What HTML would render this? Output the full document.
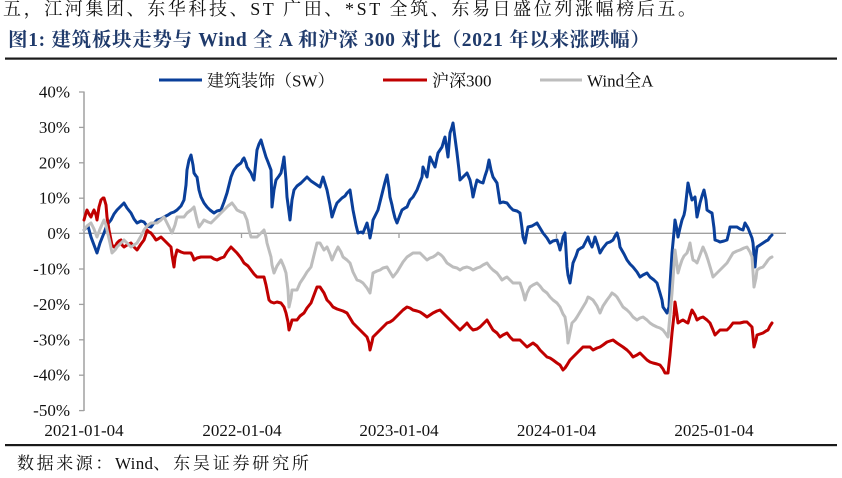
<!DOCTYPE html>
<html>
<head>
<meta charset="utf-8">
<style>
  html,body{margin:0;padding:0;background:#fff;}
  body{width:842px;height:478px;overflow:hidden;position:relative;}
  svg{position:absolute;left:0;top:0;}
  .t{font-family:"Liberation Serif","Noto Serif CJK SC",serif;}
</style>
</head>
<body>
<svg width="842" height="478" viewBox="0 0 842 478" xmlns="http://www.w3.org/2000/svg">
  <!-- top cut text -->
  <text class="t" x="3" y="15" font-size="18" letter-spacing="2.6" fill="#111">五，江河集团、东华科技、ST 广田、*ST 全筑、东易日盛位列涨幅榜后五。</text>
  <!-- title -->
  <text class="t" x="8" y="46" font-size="19.5" font-weight="bold" letter-spacing="0.7" fill="#1F3A6B">图1:  建筑板块走势与 Wind 全 A 和沪深 300 对比（2021 年以来涨跌幅）</text>
  <rect x="5" y="57.5" width="832" height="2.2" fill="#1a1a1a"/>

  <!-- legend -->
  <line x1="159" y1="80" x2="202" y2="80" stroke="#0A3F9A" stroke-width="3"/>
  <text class="t" x="207" y="86.5" font-size="17" fill="#111">建筑装饰（SW）</text>
  <line x1="383" y1="80" x2="427" y2="80" stroke="#C00000" stroke-width="3"/>
  <text class="t" x="432" y="86.5" font-size="17" fill="#111">沪深300</text>
  <line x1="540" y1="80" x2="582" y2="80" stroke="#BDBDBD" stroke-width="3"/>
  <text class="t" x="587" y="86.5" font-size="17" fill="#111">Wind全A</text>

  <!-- y axis -->
  <line x1="84" y1="91.5" x2="84" y2="411" stroke="#A0A0A0" stroke-width="1.5"/>
  <g stroke="#A0A0A0" stroke-width="1.3">
    <line x1="79" y1="92" x2="84" y2="92"/>
    <line x1="79" y1="127.4" x2="84" y2="127.4"/>
    <line x1="79" y1="162.8" x2="84" y2="162.8"/>
    <line x1="79" y1="198.2" x2="84" y2="198.2"/>
    <line x1="79" y1="233.3" x2="84" y2="233.3"/>
    <line x1="79" y1="269" x2="84" y2="269"/>
    <line x1="79" y1="304.4" x2="84" y2="304.4"/>
    <line x1="79" y1="339.8" x2="84" y2="339.8"/>
    <line x1="79" y1="375.2" x2="84" y2="375.2"/>
    <line x1="79" y1="410.6" x2="84" y2="410.6"/>
  </g>
  <g class="t" font-size="17" fill="#111" text-anchor="end">
    <text x="70" y="97.5">40%</text>
    <text x="70" y="132.9">30%</text>
    <text x="70" y="168.3">20%</text>
    <text x="70" y="203.7">10%</text>
    <text x="70" y="238.8">0%</text>
    <text x="70" y="274.5">-10%</text>
    <text x="70" y="309.9">-20%</text>
    <text x="70" y="345.3">-30%</text>
    <text x="70" y="380.7">-40%</text>
    <text x="70" y="416.1">-50%</text>
  </g>

  <!-- zero line / x axis -->
  <line x1="84" y1="233.3" x2="786" y2="233.3" stroke="#A0A0A0" stroke-width="1.3"/>
  <g stroke="#A0A0A0" stroke-width="1.3">
    <line x1="241.5" y1="233.3" x2="241.5" y2="238"/>
    <line x1="399" y1="233.3" x2="399" y2="238"/>
    <line x1="556.5" y1="233.3" x2="556.5" y2="238"/>
    <line x1="714" y1="233.3" x2="714" y2="238"/>
  </g>
  <g class="t" font-size="17" fill="#111" text-anchor="middle">
    <text x="84" y="436">2021-01-04</text>
    <text x="242" y="436">2022-01-04</text>
    <text x="399" y="436">2023-01-04</text>
    <text x="556.5" y="436">2024-01-04</text>
    <text x="714" y="436">2025-01-04</text>
  </g>

  <!-- series -->
  <g fill="none" stroke-width="3" stroke-linejoin="round" stroke-linecap="round">
    <polyline stroke="#0A3F9A" points="84,230 88,226 91,237 94,245 97,253 100,243 104,233 107,225 111,220 114,214 117,210 121,206 124,203 127,208 131,213 134,219 137,223 141,221 144,222 147,226 151,227 154,223 157,220 161,219 164,217 168,215 171,213 174,212 177,210 181,206 184,200 186,185 187,170 189,160 191,155 193,165 194,173 196,176 197,177 199,190 201,197 204,203 207,207 210,210 214,213 217,211 221,210 224,202 227,193 229,185 231,177 233,172 234,170 237,166 241,163 243,159 244,158 246,163 247,167 249,170 251,173 253,178 254,180 256,160 257,150 259,144 261,140 263,147 266,157 268,162 271,170 272,207 274,190 276,180 279,176 281,173 283,163 284,157 286,180 287,197 289,212 290,220 292,200 294,190 297,186 301,183 304,180 307,177 311,181 314,183 317,185 320,187 323,177 327,190 330,205 332,217 335,208 337,203 340,200 342,198 345,196 347,193 350,190 353,210 356,225 358,233 361,232 363,233 365,228 367,223 369,232 370,238 372,228 373,220 376,214 378,210 381,198 383,190 385,182 387,175 389,188 390,197 392,205 393,210 395,218 397,223 400,215 402,210 405,208 407,207 410,200 413,197 417,190 420,182 422,177 423,167 425,172 427,177 430,157 433,163 435,167 438,153 440,150 442,147 444,140 445,137 447,150 448,157 449,145 450,133 452,127 453,123 455,138 457,153 459,170 460,180 463,177 465,175 467,173 470,180 472,190 473,197 475,188 477,180 480,182 483,183 485,176 487,170 489,160 491,170 493,177 495,180 497,183 500,203 503,202 507,203 510,207 513,210 517,211 520,213 522,228 523,237 525,243 527,232 528,227 532,226 537,223 540,228 543,233 547,238 550,243 553,241 557,240 559,246 560,250 562,242 563,237 565,233 567,267 568,275 570,283 572,270 573,263 576,256 578,250 581,248 583,247 586,241 588,237 590,243 592,247 594,241 595,237 598,246 600,253 603,248 607,243 610,242 613,240 615,236 617,233 619,240 620,247 624,254 627,260 630,264 633,267 637,272 640,277 643,275 647,273 650,277 654,280 657,283 660,293 662,300 663,307 665,310 667,313 669,307 670,285 672,253 674,232 675,220 677,230 678,237 680,228 682,220 684,215 685,210 687,192 688,183 690,192 692,200 694,198 695,197 697,217 699,208 700,203 702,196 704,190 706,200 707,210 710,212 712,213 714,228 715,240 718,241 720,242 724,241 727,240 729,232 730,227 734,227 737,227 740,229 743,230 745,223 748,228 750,233 752,238 753,243 754,255 755,267 756,255 757,247 760,245 763,243 766,241 768,240 770,237 772,235"/>
    <polyline stroke="#C00000" points="84,220 86,213 87,210 89,214 91,217 93,212 94,210 96,215 97,220 99,207 101,200 103,198 104,198 106,205 107,217 109,230 111,240 112,245 114,247 116,245 117,243 119,241 121,240 122,245 124,247 127,245 131,243 134,247 137,250 141,244 144,240 146,234 147,230 149,232 151,233 154,237 156,240 158,239 161,237 164,240 167,243 169,245 171,247 172,255 174,267 175,258 177,250 181,252 184,253 187,253 191,253 193,257 194,260 197,258 201,257 206,257 211,257 214,259 217,260 221,258 224,257 227,252 231,247 234,250 237,253 241,258 244,263 248,266 251,270 254,274 257,277 261,277 264,277 266,285 269,300 271,302 274,303 277,302 281,303 284,307 286,313 288,322 289,330 291,324 292,320 295,320 297,320 300,316 304,313 307,308 311,303 314,295 317,287 320,287 324,293 327,300 330,303 333,307 337,309 340,310 343,311 347,313 350,318 353,323 357,327 360,330 363,333 367,337 369,343 370,350 372,342 373,337 377,333 380,330 383,327 387,323 390,322 393,320 397,316 400,313 403,310 407,307 410,308 413,310 417,311 420,312 423,314 427,317 430,315 433,313 437,311 440,310 443,313 447,317 450,320 453,323 457,327 460,330 463,327 467,323 470,327 473,330 477,329 480,327 483,324 487,320 490,325 493,330 497,333 500,337 503,335 507,333 510,337 513,340 517,340 520,340 523,343 527,347 530,345 533,343 537,346 540,350 543,353 547,357 550,358 553,360 557,363 560,365 563,370 565,368 567,365 570,360 573,357 577,353 580,350 583,347 587,347 590,347 593,350 597,348 600,347 603,345 607,342 610,341 613,340 617,343 620,345 623,347 627,350 630,353 633,357 637,355 640,353 643,356 647,360 650,362 653,363 657,364 660,365 663,369 665,373 668,373 670,355 672,333 674,315 675,302 677,315 678,323 681,321 683,320 686,322 688,323 690,316 692,310 695,315 697,320 700,318 703,317 707,320 710,323 713,330 715,335 718,332 720,330 724,330 727,330 730,327 733,323 737,323 740,323 744,322 747,322 750,325 752,327 753,337 754,347 756,340 757,335 760,334 763,333 766,331 768,330 770,326 772,323"/>
    <polyline stroke="#BDBDBD" points="84,230 87,226 91,223 94,229 97,237 100,229 104,220 106,225 107,230 110,243 112,253 115,250 117,247 121,243 124,240 127,243 131,247 134,245 137,243 141,236 144,230 147,226 151,223 154,223 157,223 161,220 164,217 168,225 172,233 175,225 177,217 181,217 184,217 187,213 191,210 194,207 197,220 199,227 202,223 204,220 208,222 211,223 214,220 217,217 221,213 224,210 228,206 232,203 235,207 237,210 241,212 244,213 247,220 249,230 251,237 254,237 257,237 261,233 264,230 266,237 267,243 269,250 271,257 272,265 274,273 277,266 281,260 284,267 286,273 288,290 289,307 291,298 292,290 295,290 297,290 300,283 304,277 307,272 311,267 314,255 317,243 320,243 324,250 327,247 330,254 332,260 335,253 338,247 341,252 343,257 347,260 350,263 353,272 357,280 360,281 363,283 367,288 370,293 372,280 373,273 377,271 380,270 383,268 387,267 390,272 393,277 397,272 400,267 403,262 407,257 410,255 413,253 417,253 420,253 423,256 427,260 430,258 433,257 436,255 438,253 441,255 443,257 447,263 450,265 453,267 457,268 460,270 463,268 467,267 470,268 473,270 477,268 480,267 483,265 487,263 490,267 493,270 497,273 500,277 502,280 505,278 507,277 510,280 513,283 517,283 520,283 523,292 525,300 527,293 530,287 533,285 537,283 540,286 543,290 547,293 550,297 553,300 557,303 560,307 563,314 565,317 567,330 568,343 570,333 572,323 575,320 577,317 580,312 583,307 586,302 588,297 590,298 593,300 597,306 600,313 603,306 607,300 610,296 612,293 615,295 617,297 620,302 623,307 627,310 630,313 633,317 637,320 640,318 643,317 647,320 650,323 653,325 657,327 660,328 663,330 666,334 668,337 670,315 672,293 674,265 675,250 677,265 678,273 680,266 682,260 684,256 687,253 689,247 690,243 692,255 693,260 695,261 697,263 700,255 703,247 706,254 708,260 711,270 713,277 717,273 720,270 724,266 727,263 730,258 733,253 737,251 740,250 744,248 747,247 750,252 752,257 753,272 754,287 756,278 757,270 760,268 763,267 766,263 768,260 770,258 772,257"/>
  </g>

  <!-- bottom rule and source -->
  <rect x="5" y="444" width="832" height="2.2" fill="#1a1a1a"/>
  <text class="t" x="17" y="469" font-size="17" fill="#111"><tspan letter-spacing="2.6">数据来源：</tspan><tspan letter-spacing="0.3">Wind</tspan><tspan letter-spacing="2.8">、东吴证券研究所</tspan></text>
</svg>
</body>
</html>
